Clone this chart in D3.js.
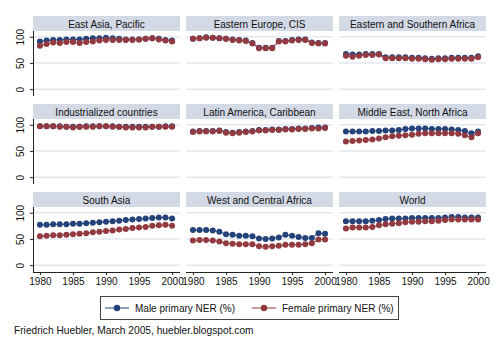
<!DOCTYPE html>
<html>
<head>
<meta charset="utf-8">
<script src="https://cdn.jsdelivr.net/npm/d3@7"></script>
<style>
  body { margin: 0; background: #fff; }
  text { font-family: "Liberation Sans", Arial, Helvetica, sans-serif; fill: #111; }
</style>
</head>
<body>
<div class="mainView"></div>
<script>
// values (primary net enrolment ratio, %)
const years = d3.range(1980, 2001);
const regions = ["East Asia, Pacific", "Eastern Europe, CIS", "Eastern and Southern Africa",
                 "Industrialized countries", "Latin America, Caribbean", "Middle East, North Africa",
                 "South Asia", "West and Central Africa", "World"];
const maleEAP  = [91,93,94,94,95,95,95,96,97,97,98,97,96,95,95,95,96,97,96,94,93];
const femaleEAP= [83,86,89,88,90,90,88,90,91,93,94,94,94,94,94,95,96,97,95,93,91];
const maleCEE  = [96,97,99,98,97,96,95,94,93,88,79,79,79,92,92,94,95,95,89,88,88];
const femaleCEE= [96,97,98,98,97,96,94,93,92,87,78,78,78,91,91,93,94,94,88,87,87];
const maleESA  = [67,66,66,67,67,67,61,61,61,61,60,60,59,58,59,59,60,60,60,60,63];
const femaleESA= [64,62,64,65,65,66,59,59,59,59,58,58,57,56,57,57,58,58,58,58,61];
const maleIND  = [97,97,97,97,96,96,96,97,97,97,97,97,96,96,96,96,96,96,96,97,97];
const femaleIND= [97,97,97,96,96,95,96,96,96,97,97,96,96,95,95,95,95,96,96,96,96];
const maleLAC  = [87,88,88,88,89,86,85,86,87,88,90,90,91,91,92,92,93,93,94,95,95];
const femaleLAC= [86,87,87,87,88,85,84,85,86,87,89,89,90,90,91,91,92,92,93,93,94];
const maleMNA  = [87,87,87,87,88,88,89,89,90,92,93,93,93,92,92,92,91,90,88,84,87];
const femaleMNA= [68,69,70,71,72,74,76,78,79,80,81,83,84,84,84,84,84,83,80,76,84];
const maleSA   = [77,77,78,78,78,79,79,80,81,82,83,84,85,86,87,88,89,90,91,91,89];
const femaleSA = [55,56,57,57,58,59,60,61,63,64,65,66,68,69,71,72,73,75,76,77,75];
const maleWCA  = [67,67,67,66,64,59,58,56,56,55,51,50,51,53,58,56,54,52,52,61,60];
const femaleWCA= [47,48,48,47,45,42,41,40,40,40,36,35,36,37,39,39,39,40,42,49,49];
const maleWLD  = [84,84,84,84,85,86,88,89,89,89,90,90,90,90,90,91,92,92,91,91,91];
const femaleWLD= [70,72,72,72,73,76,78,79,80,82,83,83,84,84,85,86,87,87,87,87,87];
const maleSeries   = [maleEAP, maleCEE, maleESA, maleIND, maleLAC, maleMNA, maleSA, maleWCA, maleWLD];
const femaleSeries = [femaleEAP, femaleCEE, femaleESA, femaleIND, femaleLAC, femaleMNA, femaleSA, femaleWCA, femaleWLD];
const yTicks = [0, 50, 100];
const xTicks = [1980, 1985, 1990, 1995, 2000];
const seriesNames = ["Male primary NER (%)", "Female primary NER (%)"];
const colors = ["#25437b", "#933a40"];
const caption = "Friedrich Huebler, March 2005, huebler.blogspot.com";

let width = 500, height = 350;
let svg = d3.select(".mainView").append("svg")
    .attr("width", width).attr("height", height);

let colX = [33, 186, 339];
let rowY = [16, 104, 192];
let panelW = 147, stripH = 15, plotH = 65;

let xScale = d3.scaleLinear().domain([1978.95, 2001.2]).range([0, panelW]);
let yScale = d3.scaleLinear().domain([-13, 111]).range([plotH, 0]);

regions.forEach((name, i) => {
    let col = i % 3, row = Math.floor(i / 3);
    let g = svg.append("g")
        .attr("transform", "translate(" + [colX[col], rowY[row]] + ")");

    // title strip
    g.append("rect")
        .attr("x", 0).attr("y", 0)
        .attr("width", panelW).attr("height", stripH)
        .style("fill", "#d3d9e5");
    g.append("text")
        .attr("x", panelW / 2).attr("y", stripH / 2 + 4)
        .attr("text-anchor", "middle")
        .style("font-size", "10px")
        .text(name);

    let p = g.append("g").attr("transform", "translate(0," + stripH + ")");

    yTicks.forEach(t => {
        p.append("line")
            .attr("x1", 0).attr("x2", panelW)
            .attr("y1", yScale(t)).attr("y2", yScale(t))
            .style("stroke", "#e3e7f0").style("stroke-width", 1.5);
    });

    if (col === 0) {
        let axisY = d3.axisLeft(yScale).tickValues(yTicks).tickSize(3).tickPadding(3);
        let ay = p.append("g").call(axisY);
        ay.select(".domain").attr("d", "M0.5,0V" + plotH).style("stroke", "#222");
        ay.selectAll(".tick line").style("stroke", "#222");
        ay.selectAll(".tick text")
            .attr("transform", "rotate(-90)")
            .attr("x", 0).attr("y", -9)
            .attr("dy", 0)
            .attr("text-anchor", "middle")
            .style("font-size", "10px")
            .style("font-family", "'Liberation Sans', Arial, sans-serif");
    }

    if (row === 2) {
        let axisX = d3.axisBottom(xScale).tickValues(xTicks).tickFormat(d3.format("d"))
            .tickSize(3).tickPadding(3);
        let ax = p.append("g").attr("transform", "translate(0," + plotH + ")").call(axisX);
        ax.select(".domain").attr("d", "M0,0.5H" + panelW).style("stroke", "#222");
        ax.selectAll(".tick line").style("stroke", "#222");
        ax.selectAll(".tick text")
            .style("font-size", "10px")
            .style("font-family", "'Liberation Sans', Arial, sans-serif");
    }

    [maleSeries[i], femaleSeries[i]].forEach((vals, s) => {
        let pts = years.map((y, k) => ({ year: y, v: vals[k] }));
        let line = d3.line().x(d => xScale(d.year)).y(d => yScale(d.v));
        p.append("path")
            .datum(pts)
            .attr("d", line)
            .style("fill", "none")
            .style("stroke", colors[s])
            .style("stroke-width", 1);
        p.selectAll(".dot" + s)
            .data(pts).enter()
            .append("circle")
            .attr("cx", d => xScale(d.year))
            .attr("cy", d => yScale(d.v))
            .attr("r", 3)
            .style("fill", colors[s]);
    });
});

// legend
let legend = svg.append("g");
legend.append("rect")
    .attr("x", 100.5).attr("y", 296.5)
    .attr("width", 298).attr("height", 23)
    .style("fill", "#fff").style("stroke", "#444").style("stroke-width", 1);
let legX = [105, 252];
seriesNames.forEach((n, s) => {
    legend.append("line")
        .attr("x1", legX[s]).attr("x2", legX[s] + 24)
        .attr("y1", 308).attr("y2", 308)
        .style("stroke", colors[s]).style("stroke-width", 1);
    legend.append("circle")
        .attr("cx", legX[s] + 12).attr("cy", 308).attr("r", 3.2)
        .style("fill", colors[s]);
    legend.append("text")
        .attr("x", legX[s] + 30).attr("y", 311.6)
        .style("font-size", "10px")
        .text(n);
});

svg.append("text")
    .attr("x", 14).attr("y", 333.5)
    .style("font-size", "10.2px")
    .text(caption);
</script>
</body>
</html>
